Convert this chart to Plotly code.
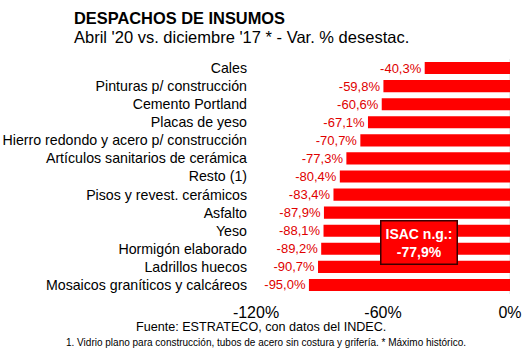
import plotly.graph_objects as go

categories = [
    "Cales", "Pinturas p/ construcción", "Cemento Portland", "Placas de yeso",
    "Hierro redondo y acero p/ construcción", "Artículos sanitarios de cerámica",
    "Resto (1)", "Pisos y revest. cerámicos", "Asfalto", "Yeso",
    "Hormigón elaborado", "Ladrillos huecos", "Mosaicos graníticos y calcáreos",
]
values = [-40.3, -59.8, -60.6, -67.1, -70.7, -77.3, -80.4, -83.4, -87.9, -88.1, -89.2, -90.7, -95.0]
labels = [f"{v:.1f}%".replace(".", ",") for v in values]
tick_vals = [-120, -60, 0]
tick_text = ["-120%", "-60%", "0%"]
isac_text = "ISAC n.g.:<br>-77,9%"

W, H = 530, 354
L, R, T, B = 256, 20, 59, 60
pw, ph = W - L - R, H - T - B

def px(x):
    return (x - L) / pw

def py(y):
    return (H - B - y) / ph

FONT = "Liberation Sans, Arial, sans-serif"

fig = go.Figure(go.Bar(
    x=values, y=categories, orientation="h",
    marker=dict(color="#ff0000", line=dict(width=0)),
    text=labels, textposition="outside", constraintext="none",
    textfont=dict(color="#e00000", size=13, family=FONT),
    cliponaxis=False,
))

fig.update_layout(
    width=W, height=H,
    margin=dict(l=L, r=R, t=T, b=B, autoexpand=False),
    paper_bgcolor="white", plot_bgcolor="white",
    showlegend=False, bargap=0.33,
    font=dict(family=FONT, color="black"),
    xaxis=dict(range=[-120, 0], tickvals=tick_vals, ticktext=tick_text,
               showgrid=False, zeroline=False, showline=False, automargin=False,
               tickfont=dict(size=16, color="black"), ticklabelstandoff=7),
    yaxis=dict(categoryorder="array", categoryarray=categories, autorange="reversed",
               showgrid=False, zeroline=False, automargin=False,
               tickfont=dict(size=14.2, color="black"),
               ticks="", ticklabelstandoff=8),
    shapes=[dict(type="line", xref="x", yref="paper", x0=0, x1=0, y0=0, y1=1,
                 line=dict(color="#d9d9d9", width=1), layer="below")],
    annotations=[
        dict(text="<b>DESPACHOS DE INSUMOS</b>", xref="paper", yref="paper",
             x=px(72), y=py(18), xanchor="left", yanchor="middle", showarrow=False,
             font=dict(size=16.4, color="black")),
        dict(text="Abril '20 vs. diciembre '17 * - Var. % desestac.", xref="paper", yref="paper",
             x=px(72), y=py(37), xanchor="left", yanchor="middle", showarrow=False,
             font=dict(size=16.5, color="black")),
        dict(text="Fuente: ESTRATECO, con datos del INDEC.", xref="paper", yref="paper",
             x=px(261), y=py(327), xanchor="center", yanchor="middle", showarrow=False,
             font=dict(size=12.6, color="black")),
        dict(text="1. Vidrio plano para construcción, tubos de acero sin costura y grifería. * Máximo histórico.",
             xref="paper", yref="paper",
             x=px(266), y=py(342), xanchor="center", yanchor="middle", showarrow=False,
             font=dict(size=10, color="black")),
        dict(text="<b>" + isac_text + "</b>", xref="paper", yref="paper",
             x=px(419), y=py(242.5), xanchor="center", yanchor="middle", showarrow=False,
             font=dict(size=14, color="white"), bgcolor="#ff0000",
             bordercolor="#3a0000", borderwidth=1.5, borderpad=4),
    ],
)

fig.write_html("out.html")
